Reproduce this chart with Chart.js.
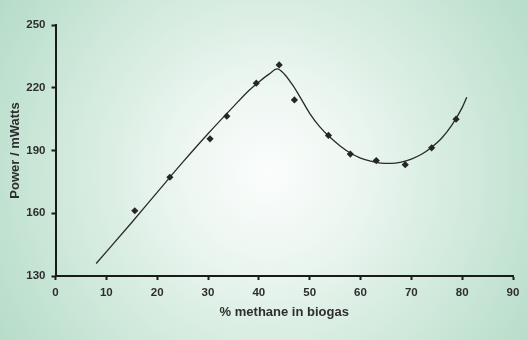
<!DOCTYPE html>
<html>
<head>
<meta charset="utf-8">
<script src="https://cdn.jsdelivr.net/npm/chart.js@4/dist/chart.umd.min.js"></script>
<style>
html,body{margin:0;padding:0;background:#b8dcca;}
#wrap{width:528px;height:340px;position:relative;}
</style>
</head>
<body>
<div id="wrap"><canvas id="c" width="528" height="340"></canvas></div>
<script>
// Measured data points (% methane, power mW)
const methanePct = [15.6, 22.5, 30.4, 33.7, 39.5, 44.0, 47.0, 53.7, 58.0, 63.1, 68.8, 74.0, 78.8];
const powerMw   = [161.2, 177.2, 195.6, 206.4, 222.2, 230.9, 214.2, 197.2, 188.3, 185.2, 183.2, 191.3, 205.0];
// Fitted curve
const fitX = [8, 15, 20, 25, 30, 35, 38, 40, 42, 43.6, 45, 46.5, 48, 50, 52, 54, 56, 58, 60, 62, 64, 66, 68, 70, 72, 74, 76, 78, 80, 80.9];
const fitY = [136, 155.6, 170, 184.3, 198, 211, 218.6, 222.8, 226.5, 229, 226.6, 221.8, 216, 207.8, 201.3, 196.3, 192.2, 188.8, 186.4, 184.9, 184.0, 183.8, 184.4, 185.9, 188.2, 191.6, 196, 202.3, 210.5, 215.5];
const xTicks = [0, 10, 20, 30, 40, 50, 60, 70, 80, 90];
const yTicks = [130, 160, 190, 220, 250];

const bgPlugin = {
  id: 'bg',
  beforeDraw(chart) {
    const ctx = chart.ctx;
    const w = chart.width, h = chart.height;
    ctx.save();
    const g = ctx.createRadialGradient(268, 172, 0, 268, 172, 330);
    g.addColorStop(0, '#fbfdfc');
    g.addColorStop(0.25, '#eef7f2');
    g.addColorStop(0.6, '#d2eadd');
    g.addColorStop(1, '#b3dbc6');
    ctx.fillStyle = g;
    ctx.fillRect(0, 0, w, h);
    ctx.restore();
  }
};

const fitData = fitX.map((x, i) => ({x, y: fitY[i]}));
const ptData = methanePct.map((x, i) => ({x, y: powerMw[i]}));

new Chart(document.getElementById('c'), {
  type: 'scatter',
  data: {
    datasets: [
      {
        label: 'fit',
        data: fitData,
        showLine: true,
        borderColor: '#2a2a2a',
        borderWidth: 1.3,
        pointRadius: 0,
        tension: 0.4,
        cubicInterpolationMode: 'monotone',
        fill: false,
        order: 2
      },
      {
        label: 'data',
        data: ptData,
        showLine: false,
        pointStyle: 'rectRot',
        pointRadius: 3.6,
        backgroundColor: '#262626',
        borderColor: '#262626',
        borderWidth: 0,
        order: 1
      }
    ]
  },
  options: {
    responsive: false,
    animation: false,
    devicePixelRatio: 1,
    layout: {padding: {left: 4, right: 15, top: 25, bottom: 16}},
    plugins: {legend: {display: false}, tooltip: {enabled: false}},
    scales: {
      x: {
        type: 'linear',
        min: 0, max: 90,
        afterBuildTicks(s) { s.ticks = xTicks.map(v => ({value: v})); },
        afterFit(s) { s.height = 48; },
        grid: {display: true, drawOnChartArea: false, drawTicks: true, tickLength: 4, tickColor: '#1a1a1a', tickWidth: 2},
        border: {display: true, color: '#1a1a1a', width: 2},
        ticks: {color: '#2e2e2e', font: {family: 'Liberation Sans, Arial', size: 11.5, weight: 'bold'}, padding: 6, maxRotation: 0},
        title: {display: true, text: '% methane in biogas', color: '#2e2e2e', font: {family: 'Liberation Sans, Arial', size: 13, weight: 'bold'}, padding: {top: 6}}
      },
      y: {
        type: 'linear',
        min: 130, max: 250,
        afterBuildTicks(s) { s.ticks = yTicks.map(v => ({value: v})); },
        afterFit(s) { s.width = 51.5; },
        grid: {display: true, drawOnChartArea: false, drawTicks: true, tickLength: 4, tickColor: '#1a1a1a', tickWidth: 2},
        border: {display: true, color: '#1a1a1a', width: 2},
        ticks: {color: '#2e2e2e', font: {family: 'Liberation Sans, Arial', size: 11.5, weight: 'bold'}, padding: 6},
        title: {display: true, text: 'Power / mWatts', color: '#2e2e2e', font: {family: 'Liberation Sans, Arial', size: 13, weight: 'bold'}, padding: {bottom: 0}}
      }
    }
  },
  plugins: [bgPlugin]
});
</script>
</body>
</html>
